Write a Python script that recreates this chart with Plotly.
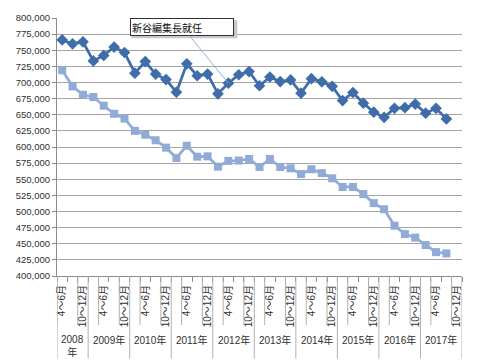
import plotly.graph_objects as go

# ---- data ----
years = [2008, 2009, 2010, 2011, 2012, 2013, 2014, 2015, 2016, 2017]
quarters = ["1～3月", "4～6月", "7～9月", "10～12月"]
shown_quarters = ["4～6月", "10～12月"]

# categories: 2008 starts at 4～6月
categories = []
for y in years:
    for q in quarters:
        if y == 2008 and q == "1～3月":
            continue
        categories.append((y, q))

series_dark = [766000, 760000, 763000, 733500, 742000, 755000, 746500, 714500,
               732500, 713000, 704500, 685000, 729000, 710500, 713000, 682500,
               699000, 712000, 717000, 695000, 708500, 701500, 704000, 683500,
               706000, 701000, 694000, 672000, 684500, 668000, 654000, 646000,
               660000, 661000, 666500, 652500, 660000, 643500]
series_light = [719000, 694000, 681000, 677500, 664000, 651500, 644000, 625000,
                619000, 610500, 599000, 583000, 602000, 585000, 585500, 569500,
                578500, 579000, 581500, 569000, 581500, 569000, 567000, 558000,
                565500, 559500, 551500, 538000, 538000, 527000, 513000, 503500,
                478000, 465000, 459500, 448000, 437000, 435000]

event_label = "新谷編集長就任"
event_category = (2012, "4～6月")

y_ticks = list(range(400000, 800001, 25000))

# ---- figure ----
n = len(categories)
xs_dark = list(range(len(series_dark)))
xs_light = list(range(len(series_light)))

DARK = "#3F6DA9"
LIGHT = "#8FABD6"
GRID = "#A5A5A5"
AXIS = "#8C8C8C"
TXT = "#303030"
FONT = "Liberation Sans, Noto Sans CJK JP"

fig = go.Figure()
fig.add_trace(go.Scatter(x=xs_light, y=series_light, mode="lines+markers",
                         line=dict(color=LIGHT, width=2.75),
                         marker=dict(symbol="square", size=8, color=LIGHT)))
fig.add_trace(go.Scatter(x=xs_dark, y=series_dark, mode="lines+markers",
                         line=dict(color=DARK, width=2.75),
                         marker=dict(symbol="diamond", size=9, color=DARK)))

tickvals = [i for i, (y, q) in enumerate(categories) if q in shown_quarters]
ticktext = [categories[i][1] for i in tickvals]

PLOT_W = 405.0
shapes = []
# spreadsheet cell lines above the chart
shapes.append(dict(type="line", xref="paper", yref="paper", x0=-0.14, x1=1.05,
                   y0=1.054, y1=1.054, line=dict(color="#D4D4D4", width=1)))
for px in [17, 73, 129, 185, 240, 297, 353, 409, 465]:
    xp = (px - 57) / PLOT_W
    shapes.append(dict(type="line", xref="paper", yref="paper", x0=xp, x1=xp,
                       y0=1.054, y1=1.08, line=dict(color="#D4D4D4", width=1)))
# slot dividers left of each labelled category
for i in tickvals:
    shapes.append(dict(type="line", xref="x", yref="paper", x0=i - 0.5, x1=i - 0.5,
                       y0=0, y1=-0.19, line=dict(color="#B0B0B0", width=1)))
# year dividers
year_bounds = []
for y in years:
    idx = [i for i, c in enumerate(categories) if c[0] == y]
    year_bounds.append((idx[0] - 0.5, idx[-1] + 0.5))
edges = sorted(set([b for pair in year_bounds for b in pair]))
for e in edges:
    shapes.append(dict(type="line", xref="x", yref="paper", x0=e, x1=e,
                       y0=0, y1=-0.32, line=dict(color="#B0B0B0", width=1)))

annotations = []
for y, (a, b) in zip(years, year_bounds):
    txt = f"{y}<br>年" if (b - a) < 4 else f"{y}年"
    annotations.append(dict(x=(a + b) / 2, y=0, xref="x", yref="paper",
                            text=txt, showarrow=False, yanchor="top",
                            yshift=-56, font=dict(size=10, color=TXT, family=FONT)))

ev_idx = categories.index(event_category)
AX, AY = -46, -56
BW, BH = 106, 18
# callout box shadow
shapes.append(dict(type="rect", xref="x", yref="y", xsizemode="pixel", ysizemode="pixel",
                   xanchor=ev_idx, yanchor=series_dark[ev_idx],
                   x0=AX - BW / 2 + 2, x1=AX + BW / 2 + 2,
                   y0=-AY - BH / 2 - 2, y1=-AY + BH / 2 - 2,
                   fillcolor="#C8C8C8", line=dict(width=0), layer="above"))
annotations.append(dict(x=ev_idx, y=series_dark[ev_idx], xref="x", yref="y",
                        text=event_label, showarrow=True, arrowhead=0,
                        arrowwidth=1, arrowcolor="#8DB3E2",
                        ax=AX, ay=AY, width=100, height=14, align="left",
                        bgcolor="white", bordercolor="#303030", borderwidth=1,
                        borderpad=1,
                        font=dict(size=10, color="#111111", family="Noto Sans CJK JP")))

# page body has an 8px margin: shift the figure's margins to compensate
fig.update_layout(
    width=480, height=364,
    margin=dict(l=49, r=26, t=10, b=96, autoexpand=False),
    plot_bgcolor="white", paper_bgcolor="white",
    showlegend=False,
    shapes=shapes, annotations=annotations,
    xaxis=dict(range=[-0.5, n - 0.5], tickmode="array", tickvals=tickvals,
               ticktext=ticktext, tickangle=-90, ticks="", showgrid=False,
               showline=True, linecolor=AXIS, zeroline=False, automargin=False,
               tickfont=dict(size=10, color=TXT, family=FONT),
               ticklabelstandoff=4,
               minor=dict(ticks="outside", tick0=-0.5, dtick=1, ticklen=5,
                          tickcolor=AXIS, showgrid=False)),
    yaxis=dict(range=[400000, 800000], tickmode="array", tickvals=y_ticks,
               tickformat=",", showgrid=True, gridcolor=GRID, gridwidth=1,
               showline=True, linecolor=AXIS, ticks="outside", ticklen=4,
               tickcolor=AXIS, zeroline=False, automargin=False,
               tickfont=dict(size=9.5, color=TXT, family=FONT)),
)

fig.write_html("out.html")
